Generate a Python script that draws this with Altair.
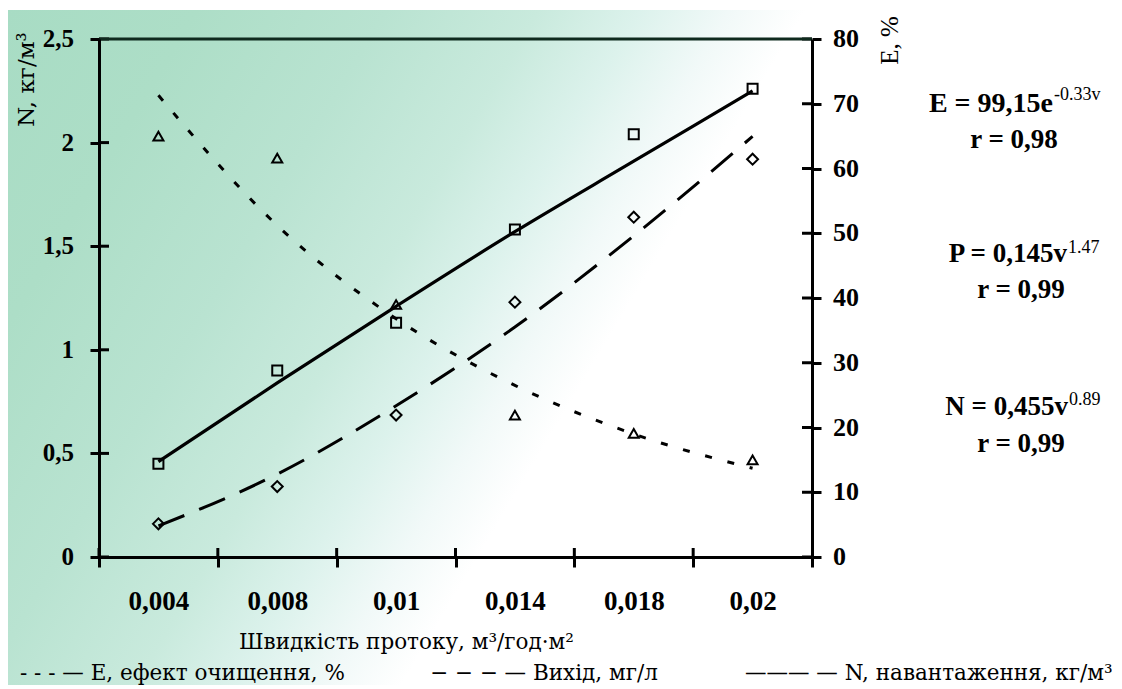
import altair as alt
import pandas as pd

# ---------------- data ----------------
categories = ["0,004", "0,008", "0,01", "0,014", "0,018", "0,02"]
n_points = [0.45, 0.90, 1.13, 1.58, 2.04, 2.26]
p_points = [0.16, 0.34, 0.685, 1.23, 1.64, 1.92]
e_points = [65.0, 61.6, 39.0, 21.9, 19.1, 15.0]
n_trend = [0.46, 0.84, 1.21, 1.57, 1.91, 2.25]
p_trend = [0.15, 0.40, 0.73, 1.11, 1.55, 2.03]
e_trend = [71.3, 51.2, 36.8, 26.5, 19.0, 13.7]
left_ticks = [0, 0.5, 1, 1.5, 2, 2.5]
left_labels = ["0", "0,5", "1", "1,5", "2", "2,5"]
right_ticks = [0, 10, 20, 30, 40, 50, 60, 70, 80]
right_labels = ["0", "10", "20", "30", "40", "50", "60", "70", "80"]

eq_main = ["E = 99,15e", "P = 0,145v", "N = 0,455v"]
eq_sup = ["-0.33v", "1.47", "0.89"]
eq_r = ["r = 0,98", "r = 0,99", "r = 0,99"]
legend_items = ["- - - — Е, ефект очищення, %", "− − − — Вихід, мг/л", "——— — N, навантаження, кг/м³"]
x_title = "Швидкість протоку, м³/год·м²"
left_title = "N, кг/м³"
right_title = "E, %"

SERIF = "Liberation Serif"
BOOK = "DejaVu Serif"
W, H = 713, 518

df = pd.DataFrame({
    "v": categories,
    "n": n_points, "p": p_points, "e": e_points,
    "nt": n_trend, "pt": p_trend, "et": e_trend,
})
left_df = pd.DataFrame({"t": left_ticks, "lab": left_labels})
right_df = pd.DataFrame({"t": right_ticks, "lab": right_labels})

x_scale = alt.Scale(type="band", paddingInner=0, paddingOuter=0, domain=categories)
left_scale = alt.Scale(domain=[0, 2.5], nice=False, zero=True)
right_scale = alt.Scale(domain=[0, 80], nice=False, zero=True)

x_axis = alt.Axis(
    title=x_title, tickBand="extent", labelAngle=0, grid=False, zindex=2,
    domainColor="black", domainWidth=3, tickColor="black", tickWidth=3, tickSize=10,
    labelFont=SERIF, labelFontWeight="bold", labelFontSize=27, labelColor="black",
    labelPadding=21,
    titleFont=BOOK, titleFontSize=21.5, titleFontWeight="normal", titleColor="black",
    titleX=307, titleY=91, titleAlign="center", titleBaseline="alphabetic", titleAnchor="start",
)
left_axis = alt.Axis(
    orient="left", values=left_ticks, grid=False, zindex=2, labels=False,
    domainColor="black", domainWidth=3, tickColor="black", tickWidth=3, tickSize=9,
    title=left_title, titleFont=BOOK, titleFontSize=23, titleFontWeight="normal",
    titleColor="black", titleAngle=270, titleX=-66, titleY=40, titleAlign="center",
    titleBaseline="alphabetic",
)
right_axis = alt.Axis(
    orient="right", values=right_ticks, grid=False, zindex=2, labels=False,
    domainColor="black", domainWidth=3, tickColor="black", tickWidth=3, tickSize=9,
    title=right_title, titleFont=SERIF, titleFontSize=25, titleFontWeight="normal",
    titleColor="black", titleAngle=270, titleX=85, titleY=1, titleAlign="center",
    titleBaseline="alphabetic",
)

X = alt.X("v:O", scale=x_scale, axis=x_axis, sort=categories)

# ---------------- background gradient ----------------
bg = alt.Chart(pd.DataFrame({"a": [0]})).mark_rect(
    color={
        "gradient": "linear", "x1": 0, "y1": 0, "x2": 1, "y2": 0.37,
        "stops": [
            {"offset": 0.0, "color": "#a8dcc4"},
            {"offset": 0.15, "color": "#addec7"},
            {"offset": 0.30, "color": "#b9e3d1"},
            {"offset": 0.42, "color": "#c9eadd"},
            {"offset": 0.50, "color": "#dcf2ec"},
            {"offset": 0.57, "color": "#f1f9f8"},
            {"offset": 0.63, "color": "#ffffff"},
            {"offset": 1.0, "color": "#ffffff"},
        ],
    }
).encode(x=alt.value(-92), x2=alt.value(1023), y=alt.value(-29), y2=alt.value(660))

base = alt.Chart(df)

# ---------------- left scale (N, output) ----------------
n_line = base.mark_line(color="black", strokeWidth=3.2, interpolate="monotone").encode(
    x=X, y=alt.Y("nt:Q", scale=left_scale, axis=left_axis))
p_line = base.mark_line(color="black", strokeWidth=3, strokeDash=[28, 16], interpolate="monotone").encode(
    x=X, y=alt.Y("pt:Q", scale=left_scale, axis=None))
n_pts = base.mark_point(shape="square", size=100, filled=False, strokeWidth=2, color="black", opacity=1).encode(
    x=X, y=alt.Y("n:Q", scale=left_scale, axis=None))
p_pts = base.mark_point(shape="diamond", size=120, filled=False, strokeWidth=2, color="black", opacity=1).encode(
    x=X, y=alt.Y("p:Q", scale=left_scale, axis=None))
left_inner = alt.Chart(left_df).mark_rule(color="black", strokeWidth=3).encode(
    y=alt.Y("t:Q", scale=left_scale, axis=None), x=alt.value(0), x2=alt.value(10))
left_lab = alt.Chart(left_df).mark_text(
    font=SERIF, fontSize=25, fontWeight="bold", align="right", baseline="middle", color="black"
).encode(y=alt.Y("t:Q", scale=left_scale, axis=None), x=alt.value(-25), text="lab:N")
x_inner = base.mark_rule(color="black", strokeWidth=3).encode(
    x=alt.X("v:O", scale=x_scale, axis=x_axis, sort=categories, bandPosition=0),
    y=alt.value(H - 9), y2=alt.value(H))
top_line = alt.Chart(pd.DataFrame({"a": [0]})).mark_rule(color="#0f2a1e", strokeWidth=3).encode(
    x=alt.value(0), x2=alt.value(W), y=alt.value(0))

# ---------------- right scale (E) ----------------
e_line = base.mark_line(color="black", strokeWidth=3, strokeDash=[7, 16], interpolate="monotone").encode(
    x=X, y=alt.Y("et:Q", scale=right_scale, axis=right_axis))
e_pts = base.mark_point(shape="triangle-up", size=100, filled=False, strokeWidth=2, color="black", opacity=1).encode(
    x=X, y=alt.Y("e:Q", scale=right_scale, axis=None))
right_inner = alt.Chart(right_df).mark_rule(color="black", strokeWidth=3).encode(
    y=alt.Y("t:Q", scale=right_scale, axis=None), x=alt.value(W - 10), x2=alt.value(W))
right_lab = alt.Chart(right_df).mark_text(
    font=SERIF, fontSize=26, fontWeight="bold", align="left", baseline="middle", color="black"
).encode(y=alt.Y("t:Q", scale=right_scale, axis=None), x=alt.value(W + 21), text="lab:N")


# ---------------- annotations ----------------
def txt(s, x, y, size, weight="bold", align="left", font=SERIF):
    return alt.Chart(pd.DataFrame({"t": [s]})).mark_text(
        font=font, fontSize=size, fontWeight=weight, align=align, baseline="alphabetic", color="black"
    ).encode(text="t:N", x=alt.value(x), y=alt.value(y))


ann = [
    txt(eq_main[0], 954, 73, 28, align="right"),
    txt(eq_sup[0], 955, 61, 18, weight="normal"),
    txt(eq_r[0], 915, 109, 27, align="center"),
    txt(eq_main[1], 968, 223, 27, align="right"),
    txt(eq_sup[1], 969, 214, 18, weight="normal"),
    txt(eq_r[1], 922, 259, 27, align="center"),
    txt(eq_main[2], 969, 376, 27, align="right"),
    txt(eq_sup[2], 970, 366, 18, weight="normal"),
    txt(eq_r[2], 922, 413, 27, align="center"),
    txt(legend_items[0], -79, 641, 21.5, weight="normal", font=BOOK),
    txt(legend_items[1], 331, 641, 21.5, weight="normal", font=BOOK),
    txt(legend_items[2], 646, 641, 21.5, weight="normal", font=BOOK),
]

chart = alt.layer(
    bg, n_line, e_line, p_line, n_pts, p_pts, e_pts, left_inner, right_inner, x_inner, top_line,
    left_lab, right_lab, *ann
).resolve_scale(y="independent").properties(
    width=W, height=H,
    padding={"left": 91, "top": 31, "right": 300, "bottom": 128},
    autosize="none",
    background="white",
).configure_view(stroke=None)

chart.save("out.html", embed_options={"renderer": "svg", "actions": False})
